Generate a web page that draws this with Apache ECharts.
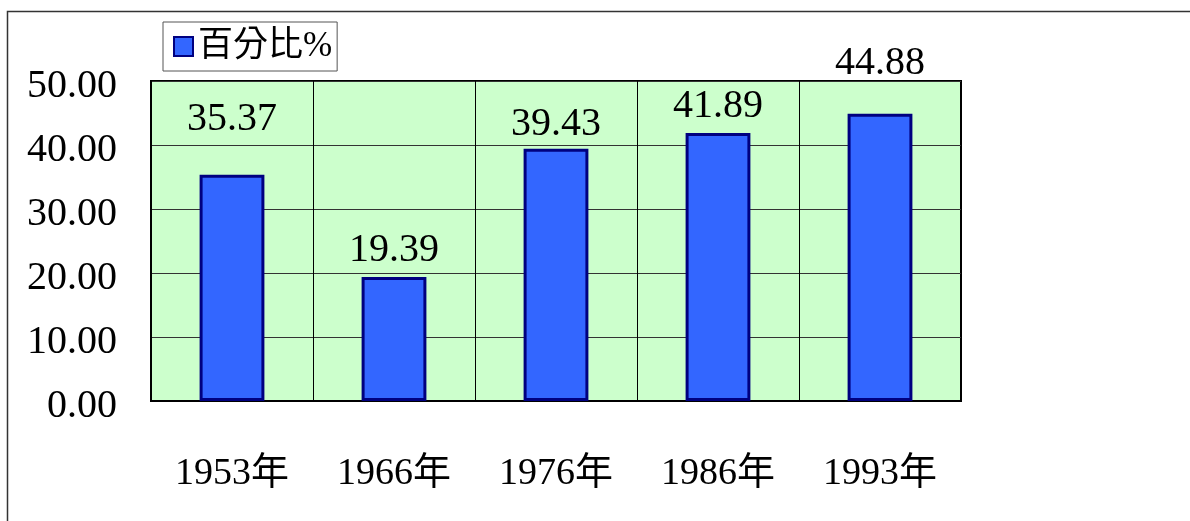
<!DOCTYPE html>
<html>
<head>
<meta charset="utf-8">
<script src="https://cdn.jsdelivr.net/npm/echarts@6/dist/echarts.min.js"></script>
<style>
  html, body { margin: 0; padding: 0; background: #fff; }
  #bar { width: 1190px; height: 521px; }
</style>
</head>
<body>
<div id="bar"></div>
<script>
  // 年份 / 百分比
  var years = ['1953年', '1966年', '1976年', '1986年', '1993年']
  var percent = [35.37, 19.39, 39.43, 41.89, 44.88]
  var yTicks = [0, 10, 20, 30, 40, 50]

  var serif = '"Liberation Serif", "Noto Sans CJK TC", serif'
  // labels in the original sit at slightly uneven heights
  var labelLift = [-31, -2, 0, -2, -26]

  var bar = echarts.init(document.getElementById('bar'))
  bar.setOption({
    animation: false,
    graphic: [{
      type: 'rect',
      shape: { x: 7.5, y: 11.5, width: 1300, height: 600 },
      style: { fill: 'none', stroke: '#333', lineWidth: 1.5 },
      z: -1
    }],
    legend: {
      left: 163,
      top: 22,
      icon: 'rect',
      itemWidth: 19,
      itemHeight: 19,
      itemStyle: { borderColor: '#000080', borderWidth: 2 },
      backgroundColor: '#fff',
      borderColor: '#555',
      borderWidth: 1,
      borderRadius: 0,
      padding: [7, 5, 7, 10],
      textStyle: { fontFamily: serif, fontSize: 35, color: '#000' },
      data: ['百分比%']
    },
    grid: {
      left: 151,
      top: 81,
      width: 810,
      height: 320,
      show: true,
      backgroundColor: '#CCFFCC',
      borderColor: '#000',
      borderWidth: 2
    },
    xAxis: {
      type: 'category',
      data: years,
      axisLine: { lineStyle: { color: '#000', width: 2 } },
      axisTick: { show: false },
      axisLabel: { margin: 54, color: '#000', fontFamily: serif, fontSize: 38 },
      splitLine: { show: true, lineStyle: { color: '#000', width: 1 } }
    },
    yAxis: {
      type: 'value',
      min: yTicks[0],
      max: yTicks[yTicks.length - 1],
      interval: 10,
      axisLine: { show: true, lineStyle: { color: '#000', width: 2 } },
      axisTick: { show: false },
      axisLabel: {
        margin: 34,
        color: '#000',
        formatter: function (v) { return '{t|' + v.toFixed(2) + '}' },
        rich: {
          t: { fontFamily: serif, fontSize: 40, color: '#000', padding: [10, 0, 0, 0] }
        }
      },
      splitLine: { lineStyle: { color: '#333', width: 1 } }
    },
    series: [{
      name: '百分比%',
      type: 'bar',
      barWidth: '40%',
      itemStyle: { color: '#3366FF', borderColor: '#000080', borderWidth: 3 },
      label: {
        show: true,
        position: 'top',
        distance: 4,
        color: '#000',
        fontFamily: serif,
        fontSize: 40,
        formatter: function (p) { return p.value.toFixed(2) }
      },
      data: percent.map(function (v, i) {
        return { value: v, label: { offset: [0, labelLift[i]] } }
      })
    }]
  })
</script>
</body>
</html>
